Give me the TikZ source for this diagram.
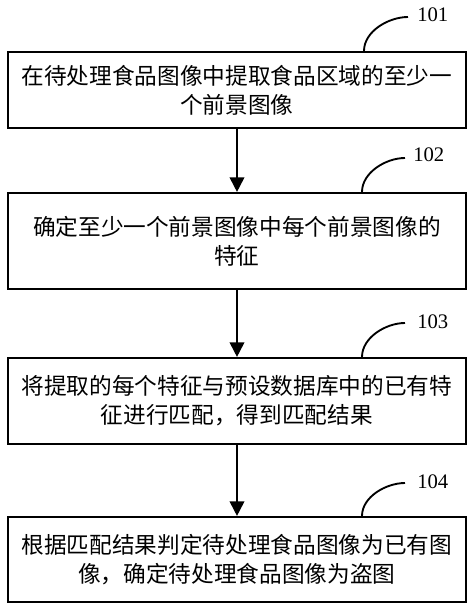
\documentclass[tikz,border=0pt]{standalone}
\usepackage{fontspec}
\setmainfont{Liberation Serif}
\newfontfamily\cjk{Noto Sans CJK SC}
\usetikzlibrary{arrows.meta}
\begin{document}
\begin{tikzpicture}[x=0.75pt,y=-0.75pt,
  stepbox/.style={draw=black,line width=1.6pt,minimum width=343.5pt,inner sep=0pt,
    align=center,font=\cjk\fontsize{17}{21.8}\selectfont},
  arr/.style={line width=1.4pt,-{Triangle[width=11pt,length=11pt]}},
  lead/.style={line width=1.4pt},
  numlab/.style={anchor=west,inner sep=0pt,font=\fontsize{15.5}{18}\selectfont}]
\useasboundingbox (0,0) rectangle (474,611);
\node[stepbox,minimum height=57pt] (b1) at (237,90) {在待处理食品图像中提取食品区域的至少一\\个前景图像};
\node[stepbox,minimum height=72pt] (b2) at (237,241) {确定至少一个前景图像中每个前景图像的\\特征};
\node[stepbox,minimum height=64.5pt] (b3) at (237,401) {将提取的每个特征与预设数据库中的已有特\\征进行匹配，得到匹配结果};
\node[stepbox,minimum height=63.75pt] (b4) at (237,559.5) {根据匹配结果判定待处理食品图像为已有图\\像，确定待处理食品图像为盗图};
\draw[arr] (b1.south) -- (b2.north);
\draw[arr] (b2.south) -- (b3.north);
\draw[arr] (b3.south) -- (b4.north);
\coordinate (e1) at (408,17);
\coordinate (e2) at (405,158);
\coordinate (e3) at (405,323);
\coordinate (e4) at (405,483);
\node[numlab] (l1) at (417,15) {101};
\node[numlab] (l2) at (413,155) {102};
\node[numlab] (l3) at (417,321.5) {103};
\node[numlab] (l4) at (417,481.5) {104};
\draw[lead] ([xshift=95.25pt]b1.north) to[out=90,in=180,looseness=0.9] (e1);
\draw[lead] ([xshift=93.75pt]b2.north) to[out=90,in=180,looseness=0.9] (e2);
\draw[lead] ([xshift=93.75pt]b3.north) to[out=90,in=180,looseness=0.9] (e3);
\draw[lead] ([xshift=93.75pt]b4.north) to[out=90,in=180,looseness=0.9] (e4);
\end{tikzpicture}
\end{document}
